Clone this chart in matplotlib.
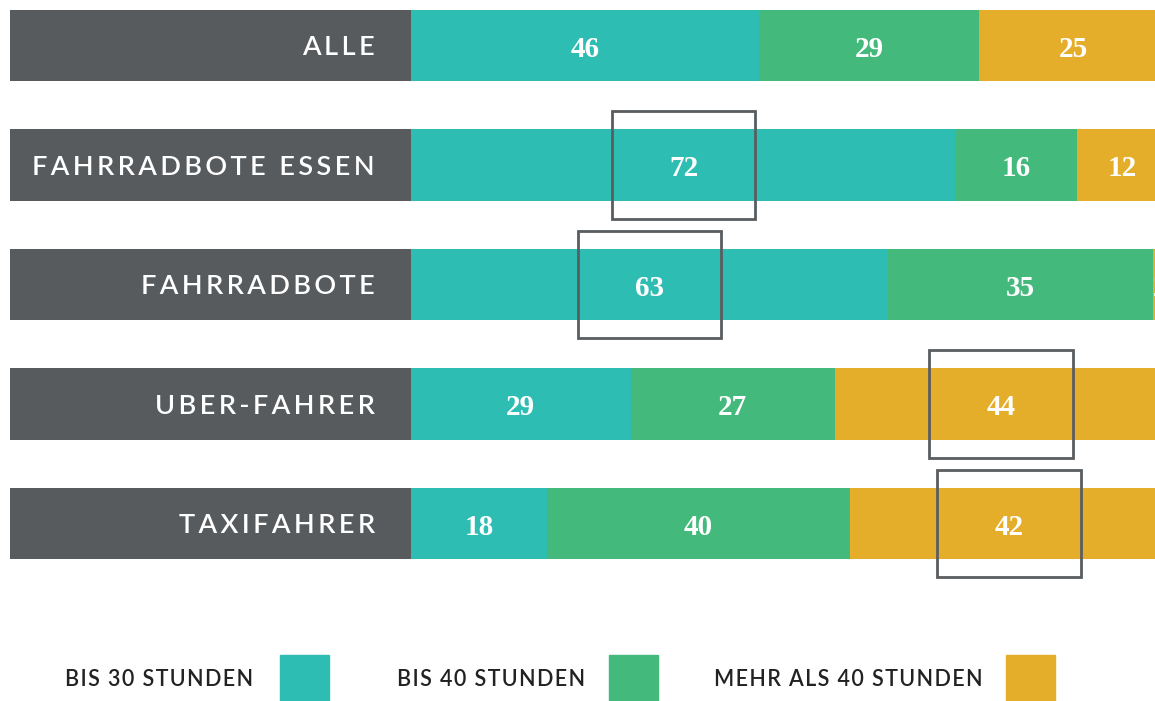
import numpy as np
import matplotlib.pyplot as plt
from matplotlib.patches import Rectangle

groups = ['ALLE', 'FAHRRADBOTE ESSEN', 'FAHRRADBOTE', 'UBER-FAHRER', 'TAXIFAHRER']
bis30 = [46, 72, 63, 29, 18]
bis40 = [29, 16, 35, 27, 40]
mehr40 = [25, 12, 2, 44, 42]
series_names = ['BIS 30 STUNDEN', 'BIS 40 STUNDEN', 'MEHR ALS 40 STUNDEN']
colors = ['#2ebdb3', '#43b97c', '#e5ae2a']

# highlighted cells: row index and left edge of the frame (in %)
box_rows = [1, 2, 3, 4]
box_left = [26.5, 22.0, 68.4, 69.5]

gray = '#585b5e'
px = 7.57  # pixels per percent point


def spaced(s, sp='\u2009'):
    # poor man's letter spacing
    return (sp + ' ' + sp).join(sp.join(w) for w in s.split(' '))


fig = plt.figure(figsize=(11.55, 7.01), dpi=100)
ax = fig.add_axes([0, 0, 1, 1])
ax.set_xlim(-411 / px, (1155 - 411) / px)
ax.set_ylim((701 - 45.5) / 119.5, -45.5 / 119.5)
ax.axis('off')

y = np.arange(len(groups))
h = 0.6

ax.barh(y, 401 / px, left=-401 / px, height=h, color=gray)
for i, g in enumerate(groups):
    ax.text(-36 / px, y[i] + 0.02, spaced(g), ha='right', va='center',
            color='white', fontsize=19.5, fontweight='semibold',
            family=['Lato', 'DejaVu Sans'])

left = np.zeros(len(groups))
for vals, c in zip([bis30, bis40, mehr40], colors):
    vals = np.array(vals)
    ax.barh(y, vals, left=left, height=h, color=c)
    for i, v in enumerate(vals):
        ax.text(left[i] + v / 2, y[i] + 0.03, str(v), ha='center', va='center',
                color='white', fontsize=21, fontweight='bold',
                family='Liberation Serif')
    left += vals

for r, l in zip(box_rows, box_left):
    ax.add_patch(Rectangle((l, r - 0.45), 19, 0.9, fill=False,
                           edgecolor='#5a5d60', linewidth=2, zorder=5))

# legend
leg_text_x = [253, 585, 983]
leg_patch_x = [280, 609, 1006]
for name, c, tx, pxl in zip(series_names, colors, leg_text_x, leg_patch_x):
    fig.text(tx / 1155, 1 - 679 / 701, spaced(name, '\u200a'), ha='right',
             va='center', fontsize=15.5, fontweight='semibold', color='#222222',
             family=['Lato', 'DejaVu Sans'])
    fig.patches.append(Rectangle((pxl / 1155, 0), 49 / 1155, 46 / 701,
                                 transform=fig.transFigure, color=c))

fig.savefig('out.png', dpi=100)
